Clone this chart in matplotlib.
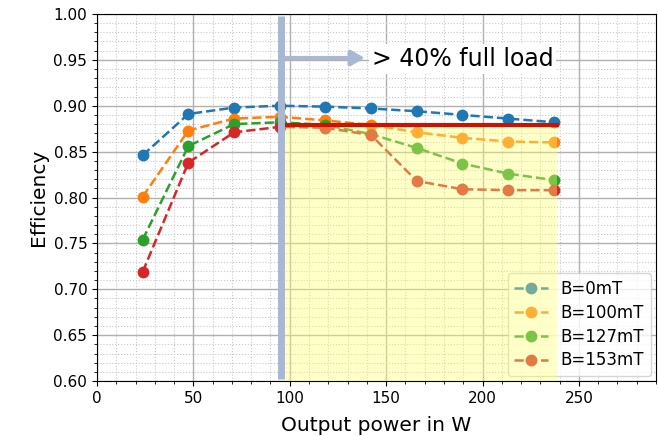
import matplotlib
matplotlib.use("Agg")
import matplotlib.pyplot as plt
import matplotlib.patheffects as pe
from matplotlib.patches import Rectangle
from matplotlib.ticker import MultipleLocator

# output power in W
power = [23.7, 47.4, 71.1, 94.8, 118.5, 142.2, 165.9, 189.6, 213.3, 237.0]

# efficiency for each magnetic field
eff_0mT = [0.846, 0.891, 0.898, 0.900, 0.899, 0.897, 0.894, 0.890, 0.886, 0.882]
eff_100mT = [0.801, 0.873, 0.886, 0.888, 0.884, 0.879, 0.871, 0.865, 0.861, 0.860]
eff_127mT = [0.754, 0.856, 0.880, 0.882, 0.879, 0.869, 0.854, 0.837, 0.826, 0.819]
eff_153mT = [0.719, 0.838, 0.871, 0.877, 0.876, 0.868, 0.818, 0.809, 0.808, 0.808]

labels = ["B=0mT", "B=100mT", "B=127mT", "B=153mT"]
series = [eff_0mT, eff_100mT, eff_127mT, eff_153mT]
colors = ["#1f77b4", "#ff7f0e", "#2ca02c", "#d62728"]

threshold_power = 95.5
threshold_eff = 0.879

fig = plt.figure(figsize=(6.58, 4.36), dpi=100)
ax = fig.add_axes([0.1474, 0.126, 0.8496, 0.842])

for y, lab, c in zip(series, labels, colors):
    ax.plot(power, y, "--o", color=c, label=lab, markersize=7.5, linewidth=1.8)

ax.set_xlim(0, 290)
ax.set_ylim(0.60, 1.00)
ax.xaxis.set_major_locator(MultipleLocator(50))
ax.xaxis.set_minor_locator(MultipleLocator(10))
ax.yaxis.set_major_locator(MultipleLocator(0.05))
ax.yaxis.set_minor_locator(MultipleLocator(0.01))
ax.grid(which="major", color="#b0b0b0", linewidth=1.0)
ax.grid(which="minor", color="#c8c8c8", linestyle=":", linewidth=0.8)
ax.tick_params(labelsize=11)
ax.set_xlabel("Output power in W", fontsize=14.5, labelpad=7)
ax.set_ylabel("Efficiency", fontsize=14.5)

leg = ax.legend(loc="lower right", fontsize=12, framealpha=0.8,
                labelspacing=0.35, borderaxespad=0.3)

# yellow region above the threshold load, drawn over everything
ax.add_patch(Rectangle((threshold_power, 0.60), power[-1] + 1.5 - threshold_power,
                       threshold_eff - 0.60, facecolor="#ffff70", alpha=0.38,
                       edgecolor="none", zorder=10))
ax.plot([threshold_power, power[-1] + 1.5], [threshold_eff, threshold_eff],
        color="#c81400", linewidth=3, zorder=11)

shadow = [pe.SimplePatchShadow(offset=(2, -2), alpha=0.3), pe.Normal()]
ax.plot([threshold_power, threshold_power], [0.602, 0.998], color="#a9b8d2",
        linewidth=5, zorder=12, solid_capstyle="butt", path_effects=shadow)
ax.annotate("", xy=(139, 0.952), xytext=(threshold_power, 0.952),
            arrowprops=dict(arrowstyle="-|>,head_length=0.8,head_width=0.45",
                            color="#a9b8d2", lw=3, shrinkA=0, shrinkB=0),
            zorder=12)
ax.text(142.5, 0.951, "> 40% full load", fontsize=17, va="center", ha="left",
        zorder=13, bbox=dict(facecolor="white", edgecolor="none", pad=2))

fig.savefig("out.png", dpi=100)
